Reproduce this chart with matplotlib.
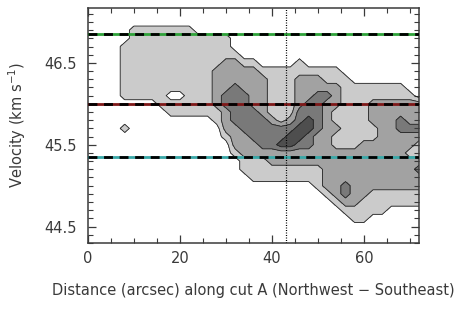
import numpy as np
import matplotlib
matplotlib.use("Agg")
import matplotlib.pyplot as plt
from matplotlib.ticker import FixedLocator, MultipleLocator

# position-velocity map, read off the figure as contour level (0-4) per cell
# columns: distance 0..72 arcsec every 2", rows: velocity 47.2 down to 44.3 every 0.1 km/s
dist = np.arange(0, 73, 2)
vel = np.round(np.arange(47.2, 44.25, -0.1), 2)
pv_map = [
    "0000000000000000000000000000000000000",  # 47.2
    "0000000000000000000000000000000000000",  # 47.1
    "0000000000000000000000000000000000000",  # 47.0
    "0000011111110000000000000000000000000",  # 46.9
    "0000011111111111000000000000000000000",  # 46.8
    "0000111111111111000000000000000000000",  # 46.7
    "0000111111111111100000000000000000000",  # 46.6
    "0000111111111112211000010000000000000",  # 46.5
    "0000111111111122222111111111000000000",  # 46.4
    "0000111111111122222211122211100000000",  # 46.3
    "0000111111111122322211122222111111100",  # 46.2
    "0000111110011123332211122332111111110",  # 46.1
    "0000000011111123332211123322111222222",  # 46.0
    "0000000001111112333211133321111222222",  # 45.9
    "0000000000000012333321234321111222322",  # 45.8
    "0000100000000002233333344322111122333",  # 45.7
    "0000000000000001223333443221111122222",  # 45.6
    "0000000000000000222334433221112222221",  # 45.5
    "0000000000000000122222222222222222211",  # 45.4
    "0000000000000000011122222222222222222",  # 45.3
    "0000000000000000011111111122222222223",  # 45.2
    "0000000000000000001111111122222222222",  # 45.1
    "0000000000000000000000000122322222222",  # 45.0
    "0000000000000000000000000012322111111",  # 44.9
    "0000000000000000000000000001221111111",  # 44.8
    "0000000000000000000000000000111110000",  # 44.7
    "0000000000000000000000000000011000000",  # 44.6
    "0000000000000000000000000000000000000",  # 44.5
    "0000000000000000000000000000000000000",  # 44.4
    "0000000000000000000000000000000000000",  # 44.3
]
levels = [0.5, 1.5, 2.5, 3.5, 4.5]
fill_colors = ["#cbcbcb", "#a2a2a2", "#797979", "#4e4e4e"]

# velocity components (dashed) and the cut position (dotted)
comp_vel = [46.855, 46.0, 45.345]
comp_color = ["#2fa23a", "#7e1818", "#3aa8a8"]
cut_pos = 43.0

xticks = [0, 20, 40, 60]
yticks = [44.5, 45.5, 46.5]

grid = np.array([[int(c) for c in row] for row in pv_map], dtype=float)

txt = "#3a3a3a"
fig = plt.figure(figsize=(4.76, 3.21), dpi=100)
ax = fig.add_axes([0.1849, 0.243, 0.6954, 0.732])

ax.contourf(dist, vel, grid, levels=levels, colors=fill_colors)
ax.contour(dist, vel, grid, levels=levels[:4], colors="#222222", linewidths=0.6)

for v, c in zip(comp_vel, comp_color):
    ax.axhline(v, color=c, lw=2.0, zorder=3)
    ln = ax.axhline(v, color="black", lw=2.0, zorder=4)
    ln.set_dashes([3.2, 2.4])

ax.axvline(cut_pos, color="black", lw=0.9, ls=(0, (0.8, 1.2)), zorder=5)

ax.set_xlim(0, 72)
ax.set_ylim(44.3, 47.17)
ax.xaxis.set_major_locator(FixedLocator(xticks))
ax.xaxis.set_minor_locator(MultipleLocator(5))
ax.yaxis.set_major_locator(FixedLocator(yticks))
ax.yaxis.set_minor_locator(MultipleLocator(0.1))
ax.tick_params(which="both", direction="in", top=True, right=True,
               colors=txt, labelsize=10.5, labelcolor=txt)
ax.tick_params(which="major", length=6, width=0.9)
ax.tick_params(which="minor", length=3.5, width=0.8)
ax.tick_params(axis="x", pad=6)
ax.tick_params(axis="y", pad=8)
for s in ax.spines.values():
    s.set_color(txt)
    s.set_linewidth(1.1)

ax.set_xlabel("Distance (arcsec) along cut A (Northwest \u2212 Southeast)",
              fontsize=10.5, color=txt, labelpad=12)
ax.set_ylabel("Velocity (km s$^{-1}$)", fontsize=10.5, color=txt, labelpad=12)

fig.savefig("out.png", dpi=100)
